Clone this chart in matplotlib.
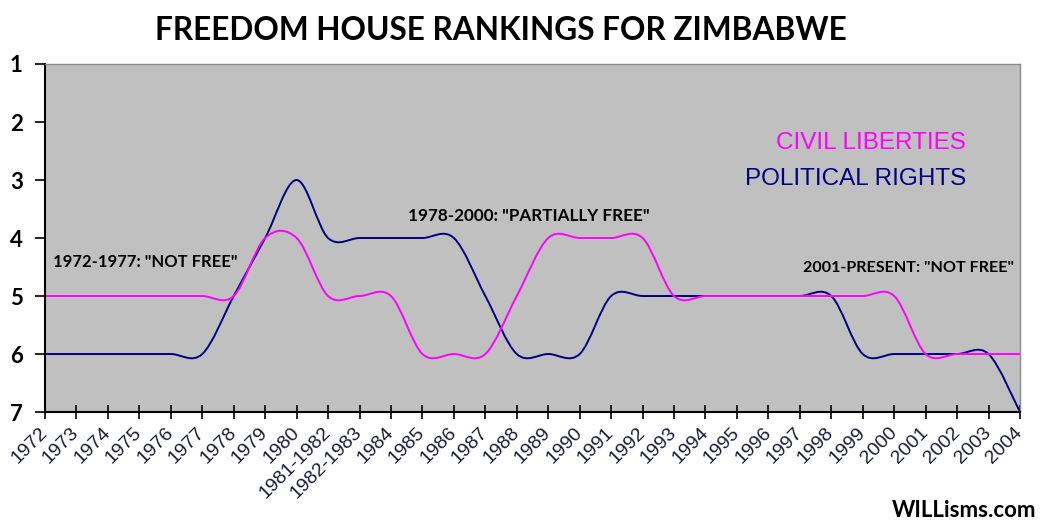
import matplotlib.pyplot as plt
from matplotlib.path import Path
from matplotlib.patches import PathPatch
from matplotlib.transforms import ScaledTranslation

# Datos
years = ['1972', '1973', '1974', '1975', '1976', '1977', '1978', '1979', '1980',
         '1981-1982', '1982-1983', '1984', '1985', '1986', '1987', '1988', '1989',
         '1990', '1991', '1992', '1993', '1994', '1995', '1996', '1997', '1998',
         '1999', '2000', '2001', '2002', '2003', '2004']
civil = [5, 5, 5, 5, 5, 5, 5, 4, 4, 5, 5, 5, 6, 6, 6, 5, 4, 4, 4, 4,
         5, 5, 5, 5, 5, 5, 5, 5, 6, 6, 6, 6]
political = [6, 6, 6, 6, 6, 6, 5, 4, 3, 4, 4, 4, 4, 4, 5, 6, 6, 6, 5, 5,
             5, 5, 5, 5, 5, 5, 6, 6, 6, 6, 6, 7]

BOLD = ['Lato', 'DejaVu Sans']
ARIAL = ['Liberation Sans', 'DejaVu Sans']


# Linea suavizada estilo Excel (bezier por tramos)
def smooth_path(ys):
    xs = list(range(len(ys)))
    n = len(ys)
    verts = [(xs[0], ys[0])]
    codes = [Path.MOVETO]
    for i in range(n - 1):
        i0 = max(i - 1, 0)
        i3 = min(i + 2, n - 1)
        c1 = (xs[i] + (xs[i + 1] - xs[i0]) / 6, ys[i] + (ys[i + 1] - ys[i0]) / 6)
        c2 = (xs[i + 1] - (xs[i3] - xs[i]) / 6, ys[i + 1] - (ys[i3] - ys[i]) / 6)
        verts += [c1, c2, (xs[i + 1], ys[i + 1])]
        codes += [Path.CURVE4] * 3
    return Path(verts, codes)


fig = plt.figure(figsize=(10.42, 5.25), dpi=100)
ax = fig.add_axes([0.0432, 0.2152, 0.9357, 0.6629])
ax.set_facecolor('#c0c0c0')

ax.add_patch(PathPatch(smooth_path(political), facecolor='none',
                       edgecolor='#000080', lw=1.4))
ax.add_patch(PathPatch(smooth_path(civil), facecolor='none',
                       edgecolor='#ff00ff', lw=1.4))

ax.set_xlim(0, len(years) - 1)
ax.set_ylim(7, 1)
ax.set_xticks(range(len(years)))
ax.set_xticklabels(years, rotation=45, ha='right', va='center',
                   rotation_mode='anchor', fontsize=14, color='#1a1a3a',
                   family=ARIAL)
shift = ScaledTranslation(6 / 100, -2 / 100, fig.dpi_scale_trans)
for lab in ax.get_xticklabels():
    lab.set_transform(lab.get_transform() + shift)
ax.set_yticks(range(1, 8))
ax.set_yticklabels([str(v) for v in range(1, 8)], fontsize=16,
                   fontweight='bold', family=BOLD)
ax.tick_params(axis='x', direction='inout', length=10, width=1.2, pad=8)
ax.tick_params(axis='y', direction='out', length=7, width=1.2, pad=9)

for s in ['top', 'right']:
    ax.spines[s].set_color('#8c8c8c')
    ax.spines[s].set_linewidth(1)
for s in ['left', 'bottom']:
    ax.spines[s].set_linewidth(1.5)

# Textos
ax.text(0.25, 4.5, '1972-1977: "NOT FREE"', fontsize=12, fontweight='bold',
        family=BOLD, va='baseline', ha='left')
ax.text(11.54, 3.71, '1978-2000: "PARTIALLY FREE"', fontsize=12.3, fontweight='bold',
        family=BOLD, va='baseline', ha='left')
ax.text(24.1, 4.59, '2001-PRESENT: "NOT FREE"', fontsize=11.6, fontweight='bold',
        family=BOLD, va='baseline', ha='left')
ax.text(29.28, 2.466, 'CIVIL LIBERTIES', fontsize=17.5, color='#ff00ff',
        family=ARIAL, ha='right', va='baseline')
ax.text(29.28, 3.086, 'POLITICAL RIGHTS', fontsize=17.5, color='#000080',
        family=ARIAL, ha='right', va='baseline')

fig.text(0.481, 1 - 40 / 525, 'FREEDOM HOUSE RANKINGS FOR ZIMBABWE', fontsize=22.8,
         fontweight='bold', family=BOLD, ha='center', va='baseline')
fig.text(0.995, 1 - 517 / 525, 'WILLisms.com', fontsize=16, fontweight='bold',
         family=BOLD, ha='right', va='baseline')

plt.savefig('out.png', dpi=100)
